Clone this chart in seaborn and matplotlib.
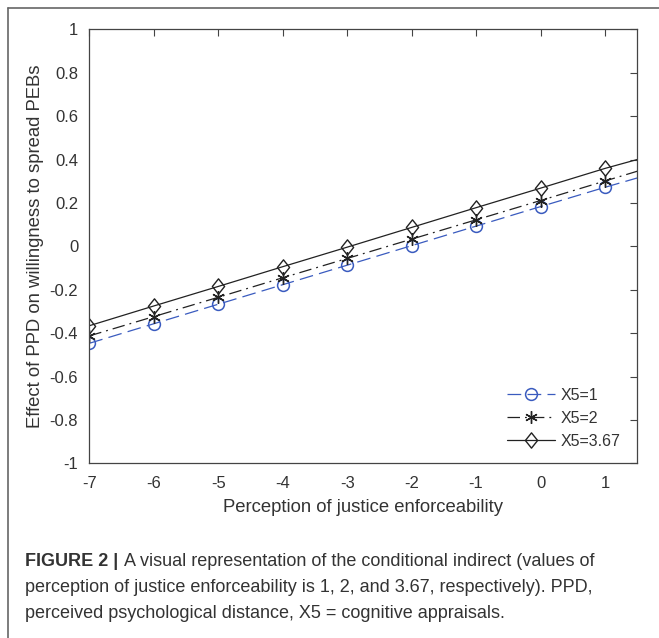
import matplotlib
matplotlib.use("Agg")
import matplotlib.pyplot as plt
import seaborn as sns
import numpy as np
import pandas as pd
from matplotlib.lines import Line2D
from matplotlib.path import Path
from matplotlib.ticker import FuncFormatter

# data
x_vals = [-7, -6, -5, -4, -3, -2, -1, 0, 1, 1.5]
y_x5_1 = [-0.447, -0.357, -0.267, -0.177, -0.087, 0.003, 0.093, 0.183, 0.272, 0.315]
y_x5_2 = [-0.413, -0.324, -0.235, -0.145, -0.056, 0.033, 0.122, 0.211, 0.301, 0.346]
y_x5_367 = [-0.366, -0.275, -0.185, -0.094, -0.004, 0.087, 0.178, 0.268, 0.359, 0.400]
series_labels = ["X5=1", "X5=2", "X5=3.67"]
x_ticks = [-7, -6, -5, -4, -3, -2, -1, 0, 1]
y_ticks = [-1, -0.8, -0.6, -0.4, -0.2, 0, 0.2, 0.4, 0.6, 0.8, 1]

sns.set_style("white")
plt.rcParams['font.family'] = ['Liberation Sans', 'DejaVu Sans']
plt.rcParams['axes.unicode_minus'] = False

fig = plt.figure(figsize=(6.59, 6.38), dpi=100)
W, H = 659, 638
ax = fig.add_axes([89.3 / W, 1 - 463.3 / H, (637.3 - 89.3) / W, (463.3 - 29.3) / H])

diamond = Path([(0, 1), (0.8, 0), (0, -1), (-0.8, 0), (0, 1)],
               [Path.MOVETO, Path.LINETO, Path.LINETO, Path.LINETO, Path.CLOSEPOLY])

blue = "#3a5bbf"
dark = "#222222"
styles = [
    dict(color=blue, linestyle=(0, (11, 5)), marker="o", mfc="none", mec=blue, ms=8.5, mew=1.1),
    dict(color=dark, linestyle=(0, (10, 4, 1.5, 4)), marker=(6, 2, 0), mfc=dark, mec=dark, ms=9, mew=1.0),
    dict(color=dark, linestyle="-", marker=diamond, mfc="none", mec=dark, ms=11, mew=1.0),
]
for ys, lab, st in zip([y_x5_1, y_x5_2, y_x5_367], series_labels, styles):
    df = pd.DataFrame({"x": x_vals, "y": ys})
    sns.lineplot(data=df, x="x", y="y", ax=ax, label=lab, linewidth=0.9,
                 markevery=list(range(9)), **st)

ax.set_xlim(-7, 1.5)
ax.set_ylim(-1, 1)
ax.set_xticks(x_ticks)
ax.set_yticks(y_ticks)
ax.xaxis.set_major_formatter(FuncFormatter(lambda v, p: "%g" % v))
ax.yaxis.set_major_formatter(FuncFormatter(lambda v, p: "%g" % round(v, 1)))
ax.tick_params(direction="in", length=5, width=0.8, color="#444444", labelsize=12,
               labelcolor="#333333", top=True, right=True)
ax.tick_params(axis="x", pad=9)
ax.tick_params(axis="y", pad=8)
for s in ax.spines.values():
    s.set_color("#444444")
    s.set_linewidth(0.9)
ax.set_xlabel("Perception of justice enforceability", fontsize=13.3, color="#333333", labelpad=6)
ax.set_ylabel("Effect of PPD on willingness to spread PEBs", fontsize=13.3, color="#333333", labelpad=4)

leg = ax.legend(loc="lower right", frameon=False, fontsize=11.5, handlelength=3.0,
                handletextpad=0.35, labelspacing=0.5, bbox_to_anchor=(0.995, 0.0),
                labelcolor="#333333")

# outer frame (top and left lines)
fig.add_artist(Line2D([8 / W, 1.0], [1 - 8 / H, 1 - 8 / H], color="#666666", lw=1.2, transform=fig.transFigure))
fig.add_artist(Line2D([8 / W, 8 / W], [0, 1 - 8 / H], color="#666666", lw=1.2, transform=fig.transFigure))

# caption
cap_x = 25 / W
fig.text(cap_x, 1 - 562 / H, "FIGURE 2 |", fontsize=13, fontweight="bold", color="#333333", va="center")
fig.text(cap_x + 99 / W, 1 - 562 / H, "A visual representation of the conditional indirect (values of",
         fontsize=13, color="#333333", va="center")
fig.text(cap_x, 1 - 587 / H, "perception of justice enforceability is 1, 2, and 3.67, respectively). PPD,",
         fontsize=13, color="#333333", va="center")
fig.text(cap_x, 1 - 613 / H, "perceived psychological distance, X5 = cognitive appraisals.",
         fontsize=13, color="#333333", va="center")

fig.savefig("out.png", dpi=100)
